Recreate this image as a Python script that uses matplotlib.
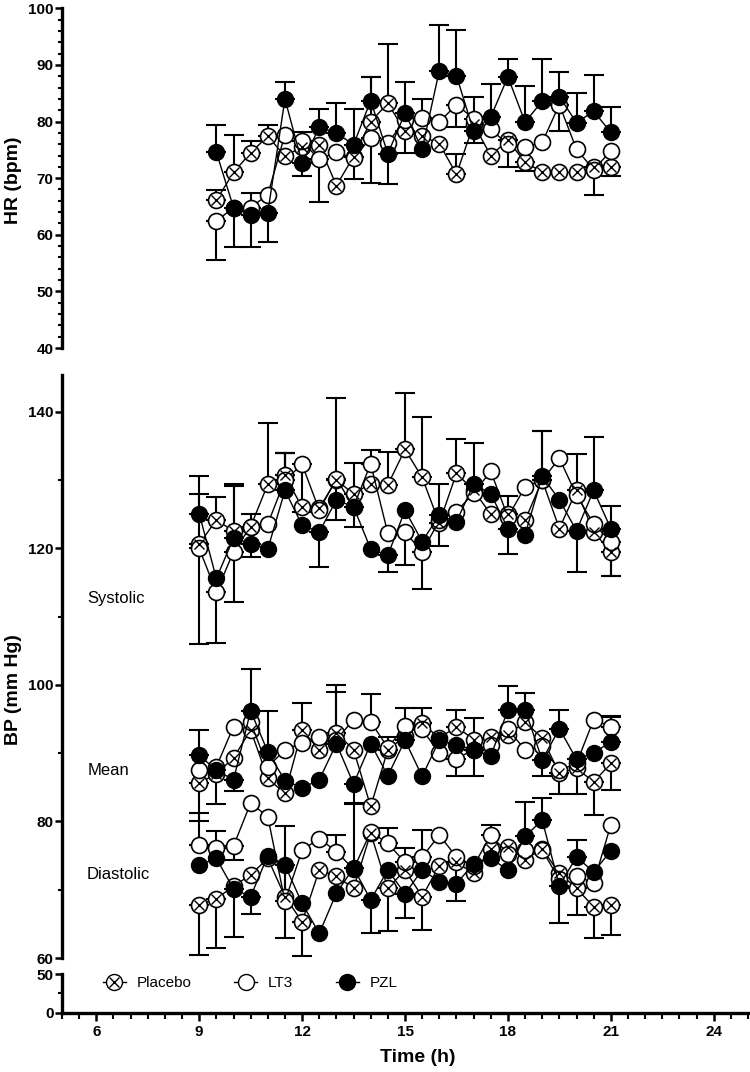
import numpy as np
import matplotlib.pyplot as plt
from matplotlib.lines import Line2D
from matplotlib.legend_handler import HandlerTuple
from matplotlib.ticker import MultipleLocator, FixedLocator

plt.rcParams['font.family'] = ['Liberation Sans Narrow', 'Liberation Sans', 'DejaVu Sans']
plt.rcParams['font.weight'] = 'bold'

# ─── Data ────────────────────────────────────────────────────────────────────
# HR panel: 9.5 h .. 21 h
t_hr = [9.5, 10, 10.5, 11, 11.5, 12, 12.5, 13, 13.5, 14, 14.5, 15, 15.5, 16,
        16.5, 17, 17.5, 18, 18.5, 19, 19.5, 20, 20.5, 21]
hr_placebo = [66.1, 71.0, 74.5, 77.4, 73.9, 75.5, 75.8, 68.7, 73.8, 80.0, 83.2, 78.3,
              77.4, 76.1, 70.7, 79.5, 74.0, 76.7, 72.8, 71.1, 71.0, 71.0, 71.9, 72.0]
hr_placebo_err = [1.8, 6.6, 2.0, 1.9, 0, 0, 0, 0, -4.0, 7.8, 10.5, -3.8,
                  0, 0, 3.5, 0, 0, -4.7, -1.6, 0, 0, 0, -4.9, -1.6]
hr_lt3 = [62.4, 64.8, 64.8, 67.1, 77.7, 76.5, 73.3, 74.6, 73.5, 77.1, 76.2, 80.3,
          80.6, 79.9, 83.0, 80.5, 78.6, 76.0, 75.5, 76.3, 83.0, 75.1, 71.5, 74.8]
hr_lt3_err = [-6.8, 0, 2.5, 0, 0, 1.6, -7.5, 0, 0, -8.0, 0, 0,
              3.4, 0, -4.0, 3.9, 0, 0, 0, 0, -4.6, 0, 0, 0]
hr_pzl = [74.6, 64.8, 63.5, 63.9, 84.0, 72.6, 79.0, 78.0, 75.9, 83.7, 74.3, 81.5,
          75.1, 89.0, 88.1, 78.3, 80.8, 87.9, 79.9, 83.6, 84.4, 79.8, 81.8, 78.1]
hr_pzl_err = [4.7, -6.9, -5.6, -5.1, 2.9, -2.2, 3.3, 5.3, 6.4, 4.1, -5.4, 5.4,
              0, 8.1, 8.0, -2.1, 5.9, 3.1, 6.4, 7.4, 4.4, 5.2, 6.5, 4.5]

# BP panel: 9 h .. 21 h
t_bp = [9, 9.5, 10, 10.5, 11, 11.5, 12, 12.5, 13, 13.5, 14, 14.5, 15, 15.5, 16,
        16.5, 17, 17.5, 18, 18.5, 19, 19.5, 20, 20.5, 21]

sys_placebo = [120.6, 124.2, 122.5, 123.2, 129.4, 130.7, 126.0, 125.9, 130.0, 128.0, 129.5, 129.3,
               134.5, 130.4, 123.7, 131.0, 128.5, 125.0, 125.1, 124.1, 130.0, 122.9, 128.5, 122.4, 119.5]
sys_placebo_err = [-14.6, 3.3, 7.0, 1.8, 9.0, 3.3, 0, 0, 12.1, 4.5, 0, 4.8,
                   8.3, 8.8, 5.7, 5.0, 0, 0, 2.6, 0, 7.2, 0, 5.3, 0, 6.7]
sys_lt3 = [120.0, 113.6, 119.5, 123.2, 123.6, 130.0, 132.3, 125.6, 130.2, 126.1, 132.4, 122.2,
           122.4, 119.5, 124.1, 125.4, 128.1, 131.3, 124.6, 129.0, 130.0, 133.2, 127.8, 123.6, 121.0]
sys_lt3_err = [8.0, -7.4, 9.7, 0, 0, 4.0, -6.9, 0, -6.1, -3.0, 2.0, 0,
               -4.9, -5.5, 0, 0, 0, 0, 0, 0, 0, 0, 0, 0, -5.0]
sys_pzl = [125.1, 115.6, 121.5, 120.7, 119.9, 128.5, 123.4, 122.4, 127.1, 126.1, 119.9, 119.0,
           125.6, 121.0, 124.9, 123.9, 129.4, 128.0, 122.9, 122.0, 130.6, 127.1, 122.6, 128.5, 122.9]
sys_pzl_err = [5.5, 0, -9.4, -1.9, 0, 5.5, 0, -5.1, 0, 0, 0, -2.5,
               0, 0, -4.5, 0, 6.1, 0, -3.7, 0, 6.6, 0, -6.1, 7.8, -6.9]

mean_placebo = [85.6, 87.0, 89.3, 93.4, 86.3, 84.1, 93.4, 90.5, 93.0, 90.5, 82.2, 90.5,
                92.5, 94.4, 92.2, 93.9, 92.0, 92.4, 92.7, 94.6, 92.2, 87.1, 87.8, 85.8, 88.5]
mean_placebo_err = [-5.5, 0, 0, 0, 0, 0, 3.9, 0, 5.9, 0, 0, 1.9,
                    0, 2.2, 0, 2.4, 0, 0, 0, 0, 0, -3.1, 0, -4.8, -3.9]
mean_lt3 = [87.5, 88.0, 93.9, 94.5, 88.0, 90.5, 91.5, 92.4, 92.0, 94.9, 94.6, 90.8,
            94.0, 93.5, 90.0, 89.2, 90.5, 91.2, 93.5, 90.5, 91.0, 87.5, 88.5, 94.9, 93.9]
mean_lt3_err = [0, 0, 0, 0, 0, 0, 0, 0, 0, 0, 4.1, 0,
                0, 0, 0, -2.5, -3.8, 0, 0, 0, 0, 0, 0, 0, 1.4]
mean_pzl = [89.7, 87.5, 86.1, 96.2, 90.2, 86.0, 84.9, 86.1, 91.4, 85.5, 91.4, 86.7,
            91.9, 86.6, 91.9, 91.2, 90.5, 89.6, 96.3, 96.4, 89.0, 93.6, 89.1, 90.0, 91.7]
mean_pzl_err = [3.7, -5.0, -1.7, 6.1, 6.0, 0, 0, 0, 8.6, -3.0, 0, 0,
                4.7, 0, 0, 0, 4.7, 0, 3.5, 2.4, -2.3, 2.8, -5.1, 0, 3.8]

dia_placebo = [67.8, 68.7, 70.5, 72.2, 74.6, 69.0, 65.3, 72.9, 72.0, 70.2, 78.3, 70.2,
               72.9, 69.0, 73.5, 74.0, 72.4, 76.0, 76.3, 74.4, 76.0, 72.4, 70.2, 67.5, 67.8]
dia_placebo_err = [-7.4, -7.3, 0, 0, 0, 0, -5.0, 0, 0, 0, 0, -6.3,
                   0, -4.9, 0, -5.7, 0, 0, 0, 0, 0, 0, -3.9, -4.6, -4.4]
dia_lt3 = [76.6, 76.1, 76.4, 82.7, 80.7, 68.3, 75.8, 77.5, 75.6, 73.0, 78.5, 76.8,
           74.0, 74.8, 78.0, 74.8, 73.5, 78.0, 75.3, 75.8, 75.8, 71.5, 72.0, 71.0, 79.5]
dia_lt3_err = [4.6, 2.5, -2.0, 0, 0, 11.0, 0, 0, 2.4, 0, 0, 2.3,
               2.1, 4.0, 0, 0, 0, 1.5, 0, 0, 0, 0, 0, 0, 0]
dia_pzl = [73.6, 74.6, 70.1, 69.0, 75.0, 73.6, 68.0, 63.6, 69.5, 73.2, 68.5, 72.9,
           69.4, 72.9, 71.2, 70.9, 73.8, 74.6, 72.9, 77.8, 80.2, 70.6, 74.8, 72.6, 75.7]
dia_pzl_err = [0, 0, -7.0, -2.5, 0, -10.6, 0, 0, 0, 9.5, -4.9, 0,
               -3.6, 0, 0, 0, 0, 0, 0, 5.1, 3.2, -5.5, 2.5, 0, 0]

# ─── Helpers ─────────────────────────────────────────────────────────────────
MS = 11.5
MS_X = 7.0


def draw_series(ax, t, y, err, kind):
    t = np.asarray(t, float)
    y = np.asarray(y, float)
    e = np.asarray(err, float)
    m = e != 0
    lo = np.where(e < 0, -e, 0)[m]
    hi = np.where(e > 0, e, 0)[m]
    ax.errorbar(t[m], y[m], yerr=[lo, hi], fmt='none', ecolor='black',
                elinewidth=1.5, capsize=7, capthick=1.5, zorder=2)
    if kind == 'pzl':
        ax.plot(t, y, '-', color='black', lw=1.0, marker='o', ms=MS,
                mfc='black', mec='black', zorder=4)
    else:
        ax.plot(t, y, '-', color='black', lw=1.0, marker='o', ms=MS,
                mfc='white', mec='black', mew=1.2, zorder=3)
        if kind == 'placebo':
            ax.plot(t, y, 'x', color='black', ms=MS_X, mew=1.0, zorder=3.5)


def style_yaxis(ax):
    for s in ['top', 'right', 'bottom']:
        ax.spines[s].set_visible(False)
    ax.spines['left'].set_linewidth(2.4)
    ax.tick_params(axis='y', which='major', length=5, width=1.8, labelsize=11, pad=1)
    ax.tick_params(axis='y', which='minor', length=3, width=1.5)
    ax.set_xticks([])
    ax.set_xlim(5, 25)


# ─── Figure ──────────────────────────────────────────────────────────────────
fig = plt.figure(figsize=(7.5, 10.72), dpi=100)
W, H = 750.0, 1072.0
x0, x1 = 62, 748

ax_hr = fig.add_axes([x0 / W, 1 - 348 / H, (x1 - x0) / W, (348 - 8.3) / H])
ax_bp = fig.add_axes([x0 / W, 1 - 958 / H, (x1 - x0) / W, (958 - 375) / H])
ax_lo = fig.add_axes([x0 / W, 1 - 1012.5 / H, (x1 - x0) / W, (1012.5 - 974) / H])

for ax in (ax_hr, ax_bp, ax_lo):
    ax.patch.set_alpha(0)

# HR
draw_series(ax_hr, t_hr, hr_placebo, hr_placebo_err, 'placebo')
draw_series(ax_hr, t_hr, hr_lt3, hr_lt3_err, 'lt3')
draw_series(ax_hr, t_hr, hr_pzl, hr_pzl_err, 'pzl')
style_yaxis(ax_hr)
ax_hr.set_ylim(40, 100)
ax_hr.yaxis.set_major_locator(MultipleLocator(10))
ax_hr.yaxis.set_minor_locator(MultipleLocator(2))

# BP
for (pl, ple, lt, lte, pz, pze) in [
        (sys_placebo, sys_placebo_err, sys_lt3, sys_lt3_err, sys_pzl, sys_pzl_err),
        (mean_placebo, mean_placebo_err, mean_lt3, mean_lt3_err, mean_pzl, mean_pzl_err),
        (dia_placebo, dia_placebo_err, dia_lt3, dia_lt3_err, dia_pzl, dia_pzl_err)]:
    draw_series(ax_bp, t_bp, pl, ple, 'placebo')
    draw_series(ax_bp, t_bp, lt, lte, 'lt3')
    draw_series(ax_bp, t_bp, pz, pze, 'pzl')
style_yaxis(ax_bp)
ax_bp.set_ylim(60, 145.4)
ax_bp.yaxis.set_major_locator(FixedLocator([60, 80, 100, 120, 140]))
ax_bp.yaxis.set_minor_locator(FixedLocator([70, 90, 110, 130]))

txt_font = ['Liberation Sans', 'DejaVu Sans']
ax_bp.text(5.73, 112.6, 'Systolic', fontsize=12, fontweight='normal',
           family=txt_font, va='center', ha='left')
ax_bp.text(5.76, 87.5, 'Mean', fontsize=12, fontweight='normal',
           family=txt_font, va='center', ha='left')
ax_bp.text(5.73, 72.2, 'Diastolic', fontsize=12, fontweight='normal',
           family=txt_font, va='center', ha='left')

# lower broken segment + time axis
for s in ['top', 'right']:
    ax_lo.spines[s].set_visible(False)
ax_lo.spines['left'].set_linewidth(2.4)
ax_lo.spines['bottom'].set_linewidth(2.4)
ax_lo.set_xlim(5, 25)
ax_lo.set_ylim(0, 50)
ax_lo.yaxis.set_major_locator(FixedLocator([0, 50]))
ax_lo.yaxis.set_minor_locator(FixedLocator([25]))
ax_lo.xaxis.set_minor_locator(MultipleLocator(0.5))
ax_lo.set_xticks([6, 9, 12, 15, 18, 21, 24])
ax_lo.tick_params(axis='y', which='major', length=5, width=1.8, labelsize=11, pad=1)
ax_lo.tick_params(axis='y', which='minor', length=3, width=1.5)
ax_lo.tick_params(axis='x', which='major', length=6, width=1.8, labelsize=11, pad=3)
ax_lo.tick_params(axis='x', which='minor', length=4, width=1.5)

# legend
h_placebo = (Line2D([], [], color='black', lw=1.0, marker='o', ms=MS, mfc='white', mec='black'),
             Line2D([], [], ls='none', marker='x', color='black', ms=MS_X, mew=1.0))
h_lt3 = Line2D([], [], color='black', lw=1.0, marker='o', ms=MS, mfc='white', mec='black')
h_pzl = Line2D([], [], color='black', lw=1.0, marker='o', ms=MS, mfc='black', mec='black')
ax_lo.legend([h_placebo, h_lt3, h_pzl], ['Placebo', 'LT3', 'PZL'],
             handler_map={tuple: HandlerTuple(ndivide=1)},
             loc='center left', bbox_to_anchor=(103 / W, 1 - 983 / H),
             bbox_transform=fig.transFigure, ncol=3, frameon=False,
             handlelength=1.5, handletextpad=0.7, columnspacing=2.8,
             borderpad=0, borderaxespad=0,
             prop={'size': 11, 'weight': 'normal'})

# axis titles
fig.text(14 / W, 1 - 180 / H, 'HR (bpm)', rotation=90, fontsize=14,
         family=txt_font, va='center', ha='center')
fig.text(14 / W, 1 - 690 / H, 'BP (mm Hg)', rotation=90, fontsize=14,
         family=txt_font, va='center', ha='center')
fig.text(418 / W, 1 - 1058 / H, 'Time (h)', fontsize=14,
         family=txt_font, va='center', ha='center')

fig.savefig('out.png', dpi=100)
